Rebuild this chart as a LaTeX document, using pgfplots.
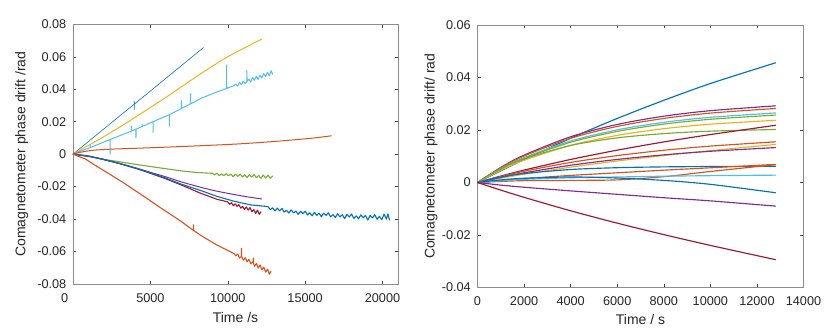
\documentclass[border=0pt]{standalone}
\usepackage{fontspec}
\setmainfont{Liberation Sans}
\usepackage{pgfplots}
\pgfplotsset{compat=1.18}

\definecolor{mblue}{RGB}{0,114,189}
\definecolor{morange}{RGB}{217,83,25}
\definecolor{myellow}{RGB}{237,177,32}
\definecolor{mpurple}{RGB}{126,47,142}
\definecolor{mgreen}{RGB}{119,172,48}
\definecolor{mlblue}{RGB}{77,190,238}
\definecolor{mdred}{RGB}{162,20,47}

\pgfplotsset{
  mstyle/.style={
    scale only axis,
    axis line style={black!45, line width=0.6pt},
    tick style={black!75, line width=0.5pt},
    tick align=inside,
    major tick length=3.3pt,
    scaled ticks=false,
    ticklabel style={font=\fontsize{12.7}{14}\selectfont, text=black!85},
    label style={font=\fontsize{14}{16}\selectfont, text=black!85},
    yticklabel style={inner sep=0pt, anchor=east, xshift=-6.5pt},
    xticklabel style={inner sep=0pt, anchor=north, yshift=-9pt},
    every axis plot/.append style={line join=round, line cap=round},
  },
}

\begin{document}
\begin{tikzpicture}
% left panel
\begin{axis}[mstyle,
    at={(73pt,45pt)}, anchor=south west,
    width=325pt, height=259.7pt,
    xmin=0, xmax=21000, ymin=-0.08, ymax=0.08,
    xtick={0,5000,10000,15000,20000},
    xticklabels={\llap{0\hspace{4.7pt}},5000,10000,15000,20000},
    ytick={-0.08,-0.06,-0.04,-0.02,0,0.02,0.04,0.06,0.08},
    yticklabels={-0.08,-0.06,-0.04,-0.02,0,0.02,0.04,0.06,0.08},
    xlabel={Time /s},
    ylabel={Comagnetometer phase drift /rad},
    xlabel style={at={(axis description cs:0.5,0)}, anchor=base, yshift=-38.7pt},
    ylabel style={at={(axis description cs:-0.158,0.5)}, anchor=center},
]
\addplot[mblue, line width=0.6pt] coordinates {
 (0,0) (1000,0.0078) (2000,0.0156) (3000,0.0234) (3960,0.0308) (3960,0.0326)
 (3965,0.0276) (3970,0.0309) (5000,0.0389) (6000,0.0467) (7000,0.0545) (8420,0.0656)
};
\addplot[myellow, line width=1pt, smooth] coordinates {
 (0,0) (2000,0.0108) (4000,0.0226) (6000,0.0350) (8250,0.0495) (10000,0.0600)
 (12200,0.0709)
};
\addplot[mlblue, line width=1pt] coordinates {
 (0,0) (1100,0.0040) (1100,0.0060) (1105,0.0040) (1970,0.0074) (2400,0.0090)
 (2400,0.0000) (2405,0.0090) (3000,0.0113) (3770,0.0142) (3770,0.0173) (3775,0.0142)
 (4070,0.0154) (4070,0.0100) (4075,0.0154) (4460,0.0170) (4460,0.0185) (4465,0.0170)
 (5170,0.0200) (5170,0.0133) (5175,0.0200) (5700,0.0222) (6230,0.0243) (6230,0.0173)
 (6235,0.0243) (7010,0.0282) (7010,0.0330) (7015,0.0282) (7600,0.0310) (7600,0.0373)
 (7605,0.0310) (8250,0.0343) (9000,0.0372) (9500,0.0390) (9930,0.0405) (9930,0.0550)
 (9935,0.0405) (10400,0.0422) (10520,0.0432) (10640,0.0419) (10760,0.0442)
 (10880,0.0429) (11000,0.0449) (11120,0.0434) (11240,0.0448) (11240,0.0516)
 (11245,0.0448) (11360,0.0462) (11480,0.0445) (11600,0.0472) (11720,0.0455)
 (11840,0.0479) (11960,0.0460) (12080,0.0486) (12200,0.0469) (12320,0.0497)
 (12440,0.0478) (12560,0.0504) (12680,0.0483) (12800,0.0514) (12900,0.0493)
};
\addplot[morange, line width=1pt, smooth] coordinates {
 (0,0) (500,0.0012) (1300,0.0024) (2500,0.0031) (4000,0.0036) (6000,0.0043)
 (8250,0.0052) (10500,0.0062) (12570,0.0075) (14500,0.0090) (15700,0.0101)
 (16690,0.0113)
};
\addplot[mgreen, line width=1.1pt] coordinates {
 (0,0) (1000,-0.0015) (1810,-0.0029) (3000,-0.0047) (4130,-0.0064) (5000,-0.0076)
 (6000,-0.0090) (7000,-0.0103) (8000,-0.0113) (9000,-0.0118) (9150,-0.0128)
 (9300,-0.0118) (9450,-0.0132) (9600,-0.0121) (9750,-0.0133) (9900,-0.0120)
 (10050,-0.0133) (10200,-0.0123) (10350,-0.0139) (10500,-0.0123) (10650,-0.0137)
 (10800,-0.0123) (10950,-0.0140) (11100,-0.0127) (11250,-0.0144) (11400,-0.0126)
 (11550,-0.0142) (11700,-0.0126) (11850,-0.0145) (12000,-0.0131) (12150,-0.0149)
 (12300,-0.0129) (12450,-0.0147) (12600,-0.0129) (12750,-0.0149) (12900,-0.0134)
};
\addplot[mpurple, line width=1pt, smooth] coordinates {
 (0,0) (1000,-0.0012) (1810,-0.0029) (3000,-0.0057) (4130,-0.0087) (5000,-0.0112)
 (6000,-0.0140) (7000,-0.0171) (8250,-0.0204) (9200,-0.0226) (10200,-0.0245)
 (11200,-0.0262) (12200,-0.0276)
};
\addplot[mdred, line width=1.1pt] coordinates {
 (0,0) (1000,-0.0012) (1810,-0.0029) (3000,-0.0058) (4130,-0.0090) (5000,-0.0118)
 (6000,-0.0152) (7000,-0.0190) (8250,-0.0241) (9300,-0.0278) (10000,-0.0294)
 (10120,-0.0309) (10240,-0.0299) (10360,-0.0318) (10480,-0.0306) (10600,-0.0322)
 (10720,-0.0311) (10840,-0.0333) (10960,-0.0322) (11080,-0.0341) (11200,-0.0325)
 (11320,-0.0345) (11440,-0.0329) (11560,-0.0355) (11680,-0.0341) (11800,-0.0366)
 (11920,-0.0345) (12040,-0.0371) (12150,-0.0355)
};
\addplot[mblue, line width=1.1pt] coordinates {
 (0,0) (1000,-0.0012) (1810,-0.0029) (3000,-0.0057) (4130,-0.0088) (5000,-0.0115)
 (6000,-0.0148) (7000,-0.0185) (8250,-0.0224) (9300,-0.0260) (10400,-0.0290)
 (11500,-0.0313) (12600,-0.0323) (12750,-0.0341) (12900,-0.0331) (13050,-0.0350)
 (13200,-0.0333) (13350,-0.0349) (13500,-0.0334) (13650,-0.0357) (13800,-0.0346)
 (13950,-0.0363) (14100,-0.0343) (14250,-0.0362) (14400,-0.0351) (14550,-0.0371)
 (14700,-0.0352) (14850,-0.0366) (15000,-0.0351) (15150,-0.0375) (15300,-0.0361)
 (15450,-0.0380) (15600,-0.0358) (15750,-0.0377) (15900,-0.0363) (16050,-0.0386)
 (16200,-0.0363) (16350,-0.0378) (16500,-0.0361) (16650,-0.0387) (16800,-0.0373)
 (16950,-0.0390) (17100,-0.0367) (17250,-0.0386) (17400,-0.0373) (17550,-0.0397)
 (17700,-0.0372) (17850,-0.0387) (18000,-0.0369) (18150,-0.0396) (18300,-0.0380)
 (18450,-0.0398) (18600,-0.0374) (18750,-0.0392) (18900,-0.0378) (19050,-0.0406)
 (19200,-0.0377) (19350,-0.0393) (19500,-0.0373) (19650,-0.0401) (19800,-0.0383)
 (19950,-0.0404) (20100,-0.0370) (20250,-0.0400) (20350,-0.0368) (20450,-0.0406)
};
\addplot[morange, line width=1.1pt] coordinates {
 (0,0) (800,-0.0030) (1540,-0.0075) (2400,-0.0125) (3270,-0.0177) (4500,-0.0255)
 (5650,-0.0330) (7000,-0.0415) (7780,-0.0470) (7780,-0.0435) (7785,-0.0470)
 (8250,-0.0500) (9300,-0.0560) (10400,-0.0612) (10520,-0.0626) (10640,-0.0615)
 (10760,-0.0640) (10890,-0.0630) (10890,-0.0580) (10895,-0.0632) (11010,-0.0653)
 (11130,-0.0638) (11250,-0.0663) (11370,-0.0648) (11490,-0.0676) (11610,-0.0663)
 (11650,-0.0668) (11650,-0.0640) (11655,-0.0668) (11730,-0.0691) (11850,-0.0673)
 (11970,-0.0702) (12090,-0.0683) (12210,-0.0713) (12330,-0.0696) (12450,-0.0727)
 (12570,-0.0708) (12690,-0.0740) (12790,-0.0722)
};
\end{axis}

% right panel
\begin{axis}[mstyle,
    at={(477.5pt,41.5pt)}, anchor=south west,
    width=326pt, height=262.5pt,
    xmin=0, xmax=14000, ymin=-0.04, ymax=0.06,
    xtick={0,2000,4000,6000,8000,10000,12000,14000},
    xticklabels={0,2000,4000,6000,8000,10000,12000,14000},
    ytick={-0.04,-0.02,0,0.02,0.04,0.06},
    yticklabels={-0.04,-0.02,0,0.02,0.04,0.06},
    xlabel={Time / s},
    ylabel={Comagnetometer phase drift/ rad},
    xlabel style={at={(axis description cs:0.5,0)}, anchor=base, yshift=-37.5pt},
    ylabel style={at={(axis description cs:-0.143,0.5)}, anchor=center},
    every axis plot/.append style={smooth, line width=1.15pt},
]
\addplot[mblue] coordinates {(0,0) (1000,0.00444) (2000,0.00873) (4000,0.01686) (6000,0.0244) (8000,0.0313) (10000,0.0377) (12800,0.0456)};
\addplot[mpurple] coordinates {(0,0) (1000,0.00574) (2000,0.01043) (4000,0.01743) (6000,0.02211) (8000,0.02526) (10000,0.02736) (12800,0.0292)};
\addplot[morange] coordinates {(0,0) (1000,0.00554) (2000,0.01008) (4000,0.01683) (6000,0.02136) (8000,0.02439) (10000,0.02643) (12800,0.0282)};
\addplot[mlblue] coordinates {(0,0) (1000,0.00521) (2000,0.00947) (4000,0.01582) (6000,0.02007) (8000,0.02292) (10000,0.02483) (12800,0.0265)};
\addplot[mgreen] coordinates {(0,0) (1000,0.00505) (2000,0.00918) (4000,0.01534) (6000,0.01946) (8000,0.02223) (10000,0.02408) (12800,0.0257)};
\addplot[myellow] coordinates {(0,0) (1000,0.00466) (2000,0.00847) (4000,0.01414) (6000,0.01795) (8000,0.02050) (10000,0.02221) (12800,0.0237)};
\addplot[mgreen] coordinates {(0,0) (1000,0.00515) (2000,0.00903) (4000,0.01412) (6000,0.01700) (8000,0.01863) (10000,0.01955) (12800,0.0202)};
\addplot[mdred] coordinates {(0,0) (1000,0.00245) (2000,0.00472) (4000,0.00878) (6000,0.01232) (8000,0.01545) (10000,0.01826) (12800,0.0218)};
\addplot[morange] coordinates {(0,0) (1000,0.00228) (2000,0.00430) (4000,0.00764) (6000,0.01025) (8000,0.01228) (10000,0.01386) (12800,0.0155)};
\addplot[myellow] coordinates {(0,0) (1000,0.00163) (2000,0.00314) (4000,0.00584) (6000,0.00819) (8000,0.01027) (10000,0.01214) (12800,0.0145)};
\addplot[mpurple] coordinates {(0,0) (1000,0.00196) (2000,0.00369) (4000,0.00656) (6000,0.00879) (8000,0.01053) (10000,0.01189) (12800,0.0133)};
\addplot[mblue] coordinates {(0,0) (1000,0.00204) (2000,0.00341) (4000,0.00495) (6000,0.00564) (8000,0.00595) (10000,0.00609) (12800,0.0062)};
\addplot[morange] coordinates {(0,0) (1000,0.0008) (2000,0.0015) (4000,0.0027) (6000,0.0037) (8000,0.0047) (10000,0.0056) (12800,0.0069)};
\addplot[morange] coordinates {(0,0) (1000,0.0004) (2000,0.0007) (4000,0.0008) (6000,0.0010) (8000,0.0022) (10000,0.0042) (12800,0.0068)};
\addplot[mlblue] coordinates {(0,0) (1000,0.0007) (2000,0.0012) (4000,0.0018) (6000,0.0021) (8000,0.0024) (10000,0.0026) (12800,0.0028)};
\addplot[mblue] coordinates {(0,0) (1000,0.0010) (2000,0.0016) (4000,0.0021) (6000,0.0017) (8000,0.0008) (10000,-0.0007) (12800,-0.0039)};
\addplot[mpurple] coordinates {(0,0) (1000,-0.0010) (2000,-0.0018) (4000,-0.0032) (6000,-0.0045) (8000,-0.0058) (10000,-0.0070) (12800,-0.0090)};
\addplot[mdred] coordinates {(0,0) (1000,-0.0029) (2000,-0.00565) (4000,-0.01078) (6000,-0.01548) (8000,-0.01985) (10000,-0.02396) (12800,-0.0294)};
\end{axis}

\pgfresetboundingbox
\path[use as bounding box] (0,0) rectangle (830pt,329pt);
\end{tikzpicture}
\end{document}
